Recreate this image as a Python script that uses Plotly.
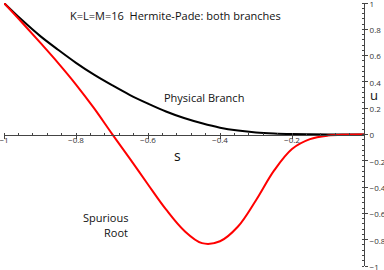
import plotly.graph_objects as go

# Physical branch (black) and spurious root (red)
s_phys = [-1.0, -0.95, -0.9, -0.85, -0.8, -0.75, -0.7, -0.65, -0.6, -0.55, -0.5,
          -0.45, -0.4, -0.35, -0.3, -0.25, -0.2, -0.15, -0.1, -0.05, 0.0]
u_phys = [1.0, 0.87, 0.75, 0.645, 0.545, 0.455, 0.375, 0.30, 0.235, 0.175, 0.125,
          0.085, 0.052, 0.030, 0.015, 0.007, 0.003, 0.001, 0.0, 0.0, 0.0]

s_spur = [-1.0, -0.95, -0.9, -0.85, -0.8, -0.75, -0.7, -0.65, -0.6, -0.55, -0.5,
          -0.45, -0.4, -0.35, -0.3, -0.25, -0.2, -0.15, -0.1, -0.05, 0.0]
u_spur = [1.0, 0.852, 0.70, 0.545, 0.38, 0.20, 0.005, -0.185, -0.38, -0.57, -0.73,
          -0.826, -0.812, -0.70, -0.50, -0.275, -0.11, -0.035, -0.008, -0.001, 0.0]

x_tickvals = [-1, -0.8, -0.6, -0.4, -0.2]
x_ticktext = ["\u22121", "\u22120.8", "\u22120.6", "\u22120.4", "\u22120.2"]
y_tickvals = [-1, -0.8, -0.6, -0.4, -0.2, 0, 0.2, 0.4, 0.6, 0.8, 1]
y_ticktext = ["\u22121", "\u22120.8", "\u22120.6", "\u22120.4", "\u22120.2", "0",
              "0.2", "0.4", "0.6", "0.8", "1"]

FONT = "Open Sans"

fig = go.Figure()
fig.add_trace(go.Scatter(x=s_phys, y=u_phys, mode="lines", line_shape="spline",
                         line=dict(color="#000000", width=2), hoverinfo="skip"))
fig.add_trace(go.Scatter(x=s_spur, y=u_spur, mode="lines", line_shape="spline",
                         line=dict(color="#ff0000", width=2), hoverinfo="skip"))

fig.update_layout(
    width=384, height=270,
    margin=dict(l=4, r=20, t=3, b=4, autoexpand=False),
    paper_bgcolor="white", plot_bgcolor="white",
    showlegend=False,
    font=dict(family=FONT, color="#111"),
    xaxis=dict(range=[-1, 0], anchor="free", position=0.5, side="bottom",
               automargin=False, ticklabeloverflow="allow", ticklabelstandoff=-5,
               showgrid=False, zeroline=False, showline=True,
               linecolor="#444", linewidth=1,
               tickmode="array", tickvals=x_tickvals, ticktext=x_ticktext,
               ticks="outside", ticklen=3, tickcolor="#444",
               tickfont=dict(size=8, color="#333", family=FONT),
               minor=dict(ticks="inside", ticklen=2, dtick=0.04, tick0=0,
                          tickcolor="#444")),
    yaxis=dict(range=[-1, 1], side="right", anchor="x", automargin=False,
               ticklabeloverflow="allow", ticklabelshift=1,
               showgrid=False, zeroline=False, showline=True,
               linecolor="#444", linewidth=1,
               tickmode="array", tickvals=y_tickvals, ticktext=y_ticktext,
               ticks="outside", ticklen=3, tickcolor="#444",
               tickfont=dict(size=8, color="#333", family=FONT),
               minor=dict(ticks="inside", ticklen=2, dtick=0.04, tick0=0,
                          tickcolor="#444")),
)

fig.add_annotation(x=-0.822, y=0.908, xref="x", yref="y", xanchor="left",
                   text="K=L=M=16  Hermite-Pade: both branches", showarrow=False,
                   font=dict(size=11, color="#111"))
fig.add_annotation(x=-0.561, y=0.28, xref="x", yref="y", xanchor="left",
                   text="Physical Branch", showarrow=False,
                   font=dict(size=11, color="#111"))
fig.add_annotation(x=-0.65, y=-0.63, xref="x", yref="y", xanchor="right",
                   text="Spurious", showarrow=False, font=dict(size=11, color="#111"))
fig.add_annotation(x=-0.65, y=-0.745, xref="x", yref="y", xanchor="right",
                   text="Root", showarrow=False, font=dict(size=11, color="#111"))
fig.add_annotation(x=-0.517, y=-0.157, xref="x", yref="y",
                   text="s", showarrow=False, font=dict(size=14, color="#111"))
fig.add_annotation(x=1.045, y=0.30, xref="paper", yref="y",
                   text="u", showarrow=False, font=dict(size=13, color="#111"))

fig.write_html("out.html", config={"displayModeBar": False},
               post_script="document.body.style.margin='0';document.body.style.padding='0';")
